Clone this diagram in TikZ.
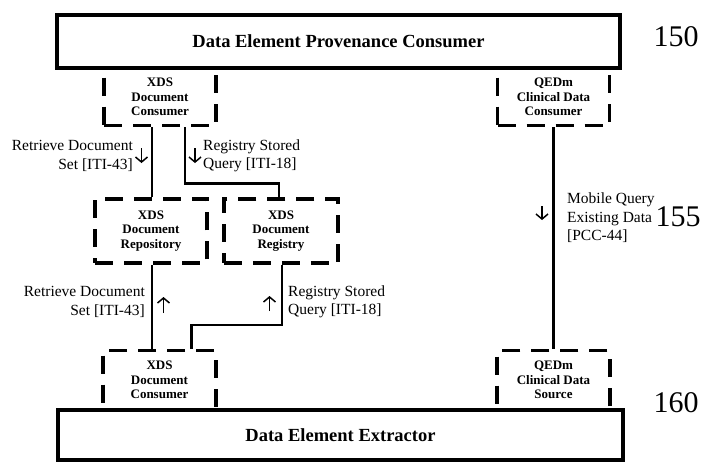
\documentclass[tikz,border=0pt]{standalone}
\usepackage{fontspec}
\setmainfont{Liberation Serif}
\usetikzlibrary{positioning, arrows.meta}

\tikzset{
    mainbox/.style={draw, line width=4pt, inner sep=0pt, fill=none,
        font=\bfseries\fontsize{18.5}{20}\selectfont},
    actorbox/.style={draw, line width=3.8pt, dash pattern=on 18pt off 11pt,
        inner sep=0pt, align=center, font=\bfseries\fontsize{13}{14.5}\selectfont},
    conn/.style={line width=2.5pt},
    txnlabel/.style={font=\fontsize{15.5}{18.5}\selectfont, inner sep=0pt},
    dirmark/.style={line width=1.5pt, -{Straight Barb[length=5pt, width=12pt]}},
    refnum/.style={font=\fontsize{30}{30}\selectfont, inner sep=0pt}
}

\begin{document}
\begin{tikzpicture}[x=1pt, y=-1pt]
    \useasboundingbox (0,0) rectangle (703,464);

    % Actors
    \node (tcons) at (160,97) [actorbox, minimum width=112pt, minimum height=57pt] {XDS\\Document\\Consumer};
    \node (qcons) at (553.5,97) [actorbox, minimum width=112pt, minimum height=57pt] {QEDm\\Clinical Data\\Consumer};
    \node (repo) at (151,231) [actorbox, minimum width=112pt, minimum height=64.5pt] {XDS\\Document\\Repository};
    \node (reg) at (281,231) [actorbox, minimum width=114.5pt, minimum height=64.5pt] {XDS\\Document\\Registry};
    \node (bcons) at (159.5,380) [actorbox, minimum width=113pt, minimum height=59pt] {XDS\\Document\\Consumer};
    \node (qsrc) at (553.5,380) [actorbox, minimum width=112.5pt, minimum height=59pt] {QEDm\\Clinical Data\\Source};

    % Main boxes
    \node (prov) at (338.5,41) [mainbox, minimum width=563pt, minimum height=53pt] {Data Element Provenance Consumer};
    \node (extr) at (340.5,435) [mainbox, minimum width=565pt, minimum height=49.5pt] {Data Element Extractor};

    % Transactions
    \draw[conn] ([xshift=-8pt]tcons.south) -- ([xshift=-8pt]tcons.south |- repo.north);
    \draw[conn] ([xshift=25pt]tcons.south) -- ++(0,56) -| ([xshift=-2pt]reg.north);
    \draw[conn] ([xshift=1pt]repo.south) -- ([xshift=1pt]repo.south |- bcons.north);
    \draw[conn] ([xshift=1pt]reg.south) -- ++(0,60) -| ([xshift=32pt]bcons.north);
    \draw[conn] (qcons.south) -- (qsrc.north);

    % Labels
    \node (rdtop) at (133,156) [txnlabel, anchor=east, align=right] {Retrieve Document\\Set [ITI-43]};
    \node (rqtop) at (203,156) [txnlabel, anchor=west, align=left] {Registry Stored\\Query [ITI-18]};
    \node (rdbot) at (145,302) [txnlabel, anchor=east, align=right] {Retrieve Document\\Set [ITI-43]};
    \node (rqbot) at (288,302) [txnlabel, anchor=west, align=left] {Registry Stored\\Query [ITI-18]};
    \node (mq) at (567,218) [txnlabel, anchor=west, align=left] {Mobile Query\\Existing Data\\{}[PCC-44]};

    % Direction marks
    \coordinate (d1a) at (141.5,148); \coordinate (d1b) at (141.5,163);
    \coordinate (d2a) at (195,148);   \coordinate (d2b) at (195,163);
    \coordinate (d3a) at (163.5,313); \coordinate (d3b) at (163.5,297);
    \coordinate (d4a) at (269.5,311); \coordinate (d4b) at (269.5,296);
    \coordinate (d5a) at (542,206);   \coordinate (d5b) at (542,220);
    \draw[dirmark] (d1a) -- (d1b);
    \draw[dirmark] (d2a) -- (d2b);
    \draw[dirmark] (d3a) -- (d3b);
    \draw[dirmark] (d4a) -- (d4b);
    \draw[dirmark] (d5a) -- (d5b);

    % Reference numbers
    \node (n150) at (676,37) [refnum] {150};
    \node (n155) at (678,217) [refnum] {155};
    \node (n160) at (676,403) [refnum] {160};
\end{tikzpicture}
\end{document}
